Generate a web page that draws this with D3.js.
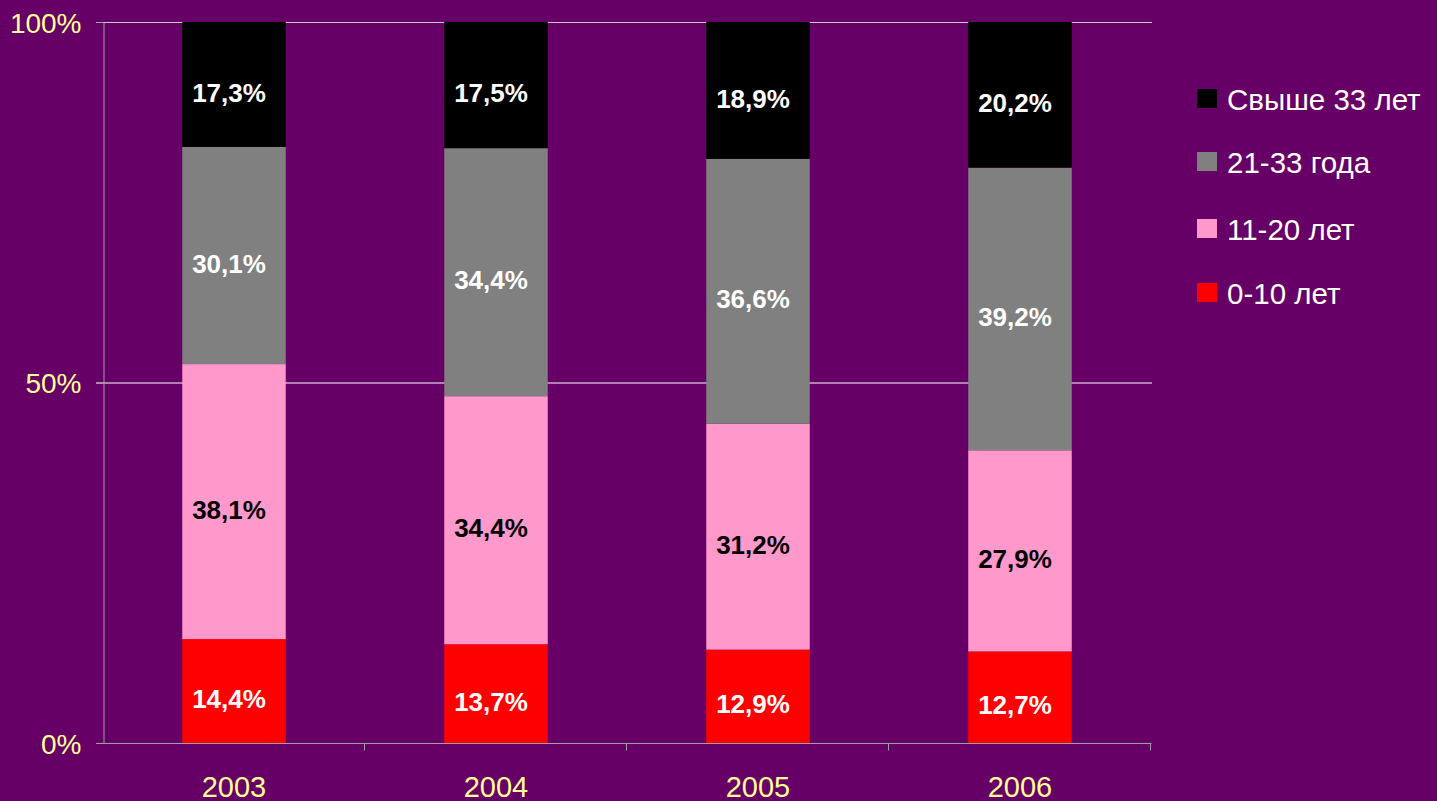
<!DOCTYPE html>
<html><head><meta charset="utf-8">
<script src="https://cdn.jsdelivr.net/npm/d3@7"></script>
<style>html,body{margin:0;padding:0;background:#660066;}svg{display:block;}</style>
</head><body>
<script>
const years = ["2003","2004","2005","2006"];
const seriesNames = ["0-10 лет","11-20 лет","21-33 года","Свыше 33 лет"];
const s0_10 = [14.4, 13.7, 12.9, 12.7];
const s11_20 = [38.1, 34.4, 31.2, 27.9];
const s21_33 = [30.1, 34.4, 36.6, 39.2];
const s33plus = [17.3, 17.5, 18.9, 20.2];
const yTicks = [0, 0.5, 1];
const yTickLabels = ["0%","50%","100%"];
const colors = ["#FF0000","#FF99CC","#808080","#000000"];
const labelColors = ["#FFFFFF","#000000","#FFFFFF","#FFFFFF"];

const W = 1437, H = 801;
const mLeft = 103, mRight = 1151, mTop = 22, mBottom = 743;

const svg = d3.select("body").append("svg").attr("width", W).attr("height", H)
  .style("font-family", "Arial, 'Liberation Sans', sans-serif");
svg.append("rect").attr("width", W).attr("height", H).attr("fill", "#660066");

const keys = ["a","b","c","d"];
const seriesArrays = [s0_10, s11_20, s21_33, s33plus];
const table = years.map((yr, i) => {
  const o = {year: yr};
  keys.forEach((k, j) => o[k] = seriesArrays[j][i]);
  return o;
});
const stacked = d3.stack().keys(keys).offset(d3.stackOffsetExpand)(table);

const x = d3.scaleBand().domain(years).range([mLeft, mRight]).padding(0);
const y = d3.scaleLinear().domain([0, 1]).range([mBottom, mTop]);
const barW = x.bandwidth() * 0.395;

// gridlines
svg.append("g").selectAll("line").data(yTicks.filter(t => t > 0)).join("line")
  .attr("x1", mLeft - 7).attr("x2", mRight + 1)
  .attr("y1", d => y(d) + 0.5).attr("y2", d => y(d) + 0.5)
  .attr("stroke", d => d === 1 ? "#c8c8c8" : "#ffffff").attr("stroke-width", 1.2);

// y axis
const yAxis = svg.append("g").attr("transform", `translate(${mLeft + 0.5},0)`)
  .call(d3.axisLeft(y).tickValues(yTicks).tickFormat((d, i) => yTickLabels[i]).tickSize(7).tickSizeOuter(0));
yAxis.select(".domain").attr("stroke", "#a0a0a0");
yAxis.selectAll(".tick line").attr("stroke", "#a0a0a0");
yAxis.selectAll(".tick text").attr("fill", "#FFFF99").attr("font-size", 28)
  .attr("x", -22).attr("dy", "0.36em").attr("font-family", "Arial, 'Liberation Sans', sans-serif");

// bars
const g = svg.append("g");
stacked.forEach((layer, si) => {
  g.append("g").selectAll("rect").data(layer).join("rect")
    .attr("x", d => x(d.data.year) + x.bandwidth() / 2 - barW / 2)
    .attr("width", barW)
    .attr("y", d => y(d[1]))
    .attr("height", d => y(d[0]) - y(d[1]))
    .attr("fill", colors[si]);
});
stacked.forEach((layer, si) => {
  g.append("g").selectAll("text").data(layer).join("text")
    .attr("x", d => x(d.data.year) + x.bandwidth() / 2 - 5)
    .attr("y", d => (y(d[0]) + y(d[1])) / 2 + 8)
    .attr("dy", "0.35em")
    .attr("text-anchor", "middle")
    .attr("font-weight", "bold").attr("font-size", 26)
    .attr("fill", labelColors[si])
    .text(d => d3.format(".1f")(d.data[keys[si]]).replace(".", ",") + "%");
});

// x axis
const xAxisG = svg.append("g").attr("transform", `translate(0,${mBottom + 0.5})`);
xAxisG.append("line").attr("x1", mLeft - 7).attr("x2", mRight + 0.5).attr("y1", 0).attr("y2", 0).attr("stroke", "#a0a0a0");
xAxisG.selectAll("line.t").data(years).join("line").attr("class", "t")
  .attr("x1", d => x(d) + x.bandwidth() - 0.5).attr("x2", d => x(d) + x.bandwidth() - 0.5)
  .attr("y1", 0).attr("y2", 7).attr("stroke", "#a0a0a0");
xAxisG.selectAll("text").data(years).join("text")
  .attr("x", d => x(d) + x.bandwidth() / 2).attr("y", 53)
  .attr("text-anchor", "middle").attr("fill", "#FFFF99").attr("font-size", 29)
  .text(d => d);

// legend
const legendOrder = [3, 2, 1, 0];
const legendY = [99, 162, 229, 293];
const lg = svg.append("g");
legendOrder.forEach((si, i) => {
  lg.append("rect").attr("x", 1197).attr("y", legendY[i] - 10).attr("width", 20).attr("height", 19)
    .attr("fill", colors[si]);
  lg.append("text").attr("x", 1227).attr("y", legendY[i]).attr("dy", "0.36em")
    .attr("fill", "#FFFFFF").attr("font-size", 29.5).text(seriesNames[si]);
});
</script>
</body></html>
